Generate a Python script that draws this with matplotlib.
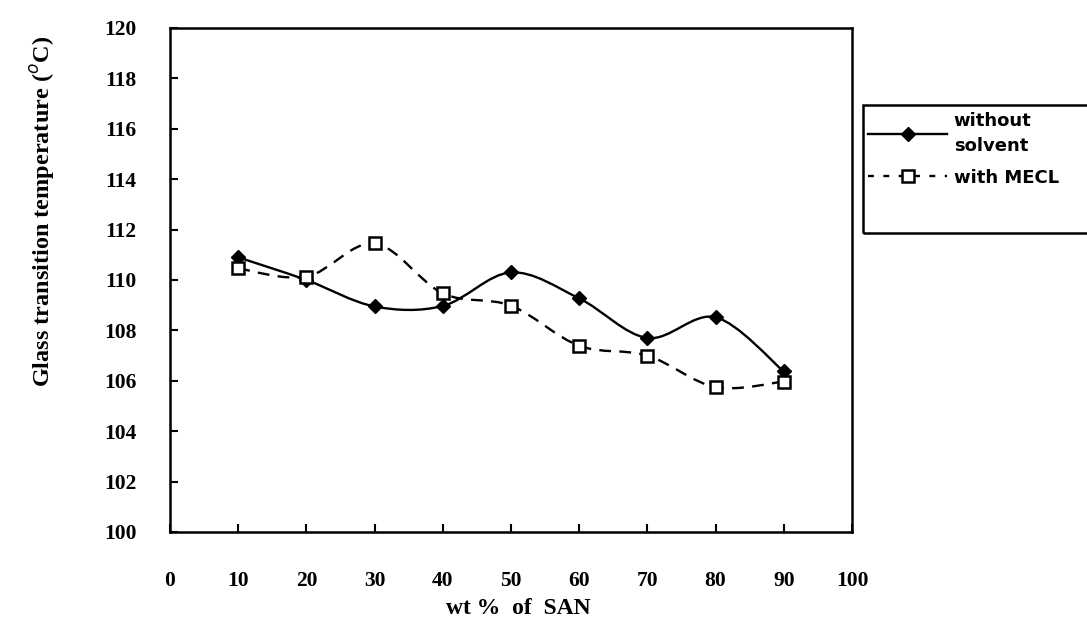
"""
Glass transition temperature vs wt % of SAN
with / without solvent (MECL)
"""
import numpy as np
import matplotlib.pyplot as plt
from matplotlib.path import Path
from matplotlib.patches import PathPatch, Rectangle
from matplotlib.lines import Line2D

# 1. data
wt_san = [10, 20, 30, 40, 50, 60, 70, 80, 90]
tg_without = [110.9, 110.0, 108.95, 108.97, 110.3, 109.27, 107.7, 108.52, 106.37]
tg_mecl = [110.46, 110.13, 111.45, 109.47, 108.98, 107.39, 107.0, 105.75, 105.97]

x_ticks = [0, 10, 20, 30, 40, 50, 60, 70, 80, 90, 100]
y_ticks = [100, 102, 104, 106, 108, 110, 112, 114, 116, 118, 120]

serif = 'Liberation Serif'
W, H = 1087, 628


# 2. smooth line (excel style), bezier through the data points
def smooth_path(xs, ys):
    p = np.column_stack([xs, ys]).astype(float)
    n = len(p)
    verts = [p[0]]
    codes = [Path.MOVETO]
    for i in range(n - 1):
        p0 = p[i - 1] if i > 0 else p[i]
        p3 = p[i + 2] if i + 2 < n else p[i + 1]
        c1 = p[i] + (p[i + 1] - p0) / 6
        c2 = p[i + 1] - (p3 - p[i]) / 6
        verts += [c1, c2, p[i + 1]]
        codes += [Path.CURVE4] * 3
    return Path(verts, codes)


# 3. figure
fig = plt.figure(figsize=(W / 100, H / 100), dpi=100)
ax = fig.add_axes([170 / W, 1 - 532 / H, 682 / W, 504 / H])

ax.add_patch(PathPatch(smooth_path(wt_san, tg_without), fill=False,
                       edgecolor='black', linewidth=1.7))
ax.add_patch(PathPatch(smooth_path(wt_san, tg_mecl), fill=False,
                       edgecolor='black', linewidth=1.7,
                       linestyle=(0, (5, 3.5))))
ax.plot(wt_san, tg_without, linestyle='none', marker='D', markersize=7.5,
        color='black', zorder=3)
ax.plot(wt_san, tg_mecl, linestyle='none', marker='s', markersize=8.5,
        markerfacecolor='white', markeredgecolor='black',
        markeredgewidth=1.8, zorder=4)

ax.set_xlim(0, 100)
ax.set_ylim(100, 120)
ax.set_xticks(x_ticks)
ax.set_yticks(y_ticks)
for s in ax.spines.values():
    s.set_linewidth(1.8)
ax.tick_params(direction='in', length=6, width=1.5)
ax.tick_params(axis='x', pad=28)
ax.tick_params(axis='y', pad=24)
for lab in ax.get_xticklabels() + ax.get_yticklabels():
    lab.set_fontfamily(serif)
    lab.set_fontweight('bold')
    lab.set_fontsize(15.5)

ax.set_xlabel('wt %  of  SAN', fontfamily=serif, fontweight='bold',
              fontsize=17)
ax.xaxis.set_label_coords(0.51, -0.13)
ax.set_ylabel('Glass transition temperature ($^{o}$C)', fontfamily=serif,
              fontweight='bold', fontsize=17.5)
ax.yaxis.set_label_coords(-0.166, 0.635)

# 4. legend (box runs off the right edge like the scan)
fig.patches.append(Rectangle((863 / W, 1 - 233 / H), 240 / W, 128 / H,
                             transform=fig.transFigure, fill=False,
                             edgecolor='black', linewidth=1.8))
handles = [
    Line2D([], [], color='black', linewidth=1.7, marker='D', markersize=7.5),
    Line2D([], [], color='black', linewidth=1.7, linestyle=(0, (2.5, 4)),
           marker='s', markersize=8.5, markerfacecolor='white',
           markeredgewidth=1.8),
]
leg = fig.legend(handles, ['without\nsolvent', 'with MECL'],
                 loc='upper left', bbox_to_anchor=(868 / W, 1 - 112 / H),
                 borderaxespad=0, borderpad=0, frameon=False,
                 handlelength=4.4, handletextpad=0.35, labelspacing=0.75,
                 prop={'family': 'DejaVu Sans', 'size': 13,
                       'weight': 'bold'})
for t in leg.get_texts():
    t.set_linespacing(1.5)

plt.savefig('out.png', dpi=100)
